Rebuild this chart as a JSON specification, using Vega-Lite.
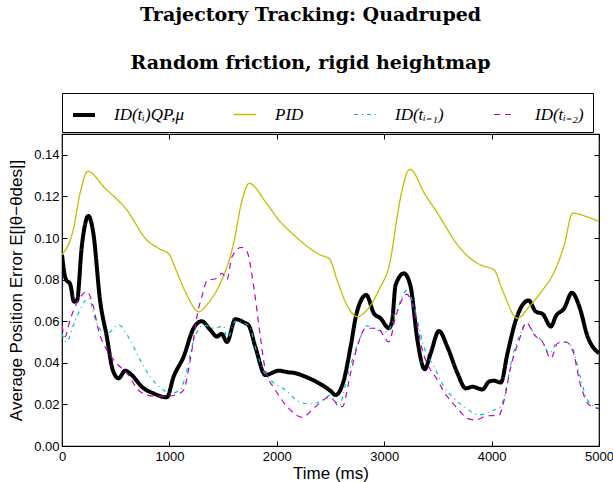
{
  "$schema": "https://vega.github.io/schema/vega-lite/v6.json",
  "autosize": "none",
  "width": 537,
  "height": 312,
  "padding": {"left": 62, "top": 134, "right": 14, "bottom": 36},
  "background": "white",
  "title": {
    "text": ["Trajectory Tracking: Quadruped", "Random friction, rigid heightmap"],
    "font": "DejaVu Serif",
    "fontWeight": "bold",
    "fontSize": 19,
    "lineHeight": 48,
    "anchor": "middle",
    "frame": "bounds",
    "offset": 20,
    "color": "#000"
  },
  "config": {
    "view": {"stroke": "#000", "strokeWidth": 1.2},
    "axis": {
      "grid": false,
      "domain": false,
      "labelFlush": false,
      "tickColor": "#000",
      "tickSize": -5,
      "tickWidth": 1,
      "labelFont": "Liberation Sans",
      "labelFontSize": 13,
      "labelColor": "#000",
      "titleFont": "Liberation Sans",
      "titleFontSize": 17,
      "titleFontWeight": "normal",
      "titleColor": "#000"
    },
    "legend": {
      "orient": "none",
      "legendX": 0,
      "legendY": -41,
      "direction": "horizontal",
      "columns": 4,
      "strokeColor": "#000",
      "padding": 9,
      "columnPadding": 47,
      "labelFont": "Liberation Serif",
      "labelFontStyle": "italic",
      "labelFontSize": 17,
      "labelColor": "#000",
      "labelOffset": 17,
      "labelLimit": 300,
      "symbolType": "stroke",
      "symbolSize": 484
    }
  },
  "data": {
    "values": [
      {"s": "ID(tᵢ)QP,μ", "t": 0, "v": 0.092},
      {"s": "ID(tᵢ)QP,μ", "t": 37, "v": 0.080},
      {"s": "ID(tᵢ)QP,μ", "t": 75, "v": 0.078},
      {"s": "ID(tᵢ)QP,μ", "t": 112, "v": 0.0694},
      {"s": "ID(tᵢ)QP,μ", "t": 140, "v": 0.070},
      {"s": "ID(tᵢ)QP,μ", "t": 184, "v": 0.0958},
      {"s": "ID(tᵢ)QP,μ", "t": 246, "v": 0.1106},
      {"s": "ID(tᵢ)QP,μ", "t": 292, "v": 0.1022},
      {"s": "ID(tᵢ)QP,μ", "t": 354, "v": 0.0702},
      {"s": "ID(tᵢ)QP,μ", "t": 417, "v": 0.0526},
      {"s": "ID(tᵢ)QP,μ", "t": 473, "v": 0.0365},
      {"s": "ID(tᵢ)QP,μ", "t": 526, "v": 0.0325},
      {"s": "ID(tᵢ)QP,μ", "t": 588, "v": 0.0362},
      {"s": "ID(tᵢ)QP,μ", "t": 650, "v": 0.0341},
      {"s": "ID(tᵢ)QP,μ", "t": 743, "v": 0.0285},
      {"s": "ID(tᵢ)QP,μ", "t": 852, "v": 0.0253},
      {"s": "ID(tᵢ)QP,μ", "t": 976, "v": 0.0234},
      {"s": "ID(tᵢ)QP,μ", "t": 1039, "v": 0.0333},
      {"s": "ID(tᵢ)QP,μ", "t": 1132, "v": 0.0429},
      {"s": "ID(tᵢ)QP,μ", "t": 1225, "v": 0.0566},
      {"s": "ID(tᵢ)QP,μ", "t": 1300, "v": 0.0600},
      {"s": "ID(tᵢ)QP,μ", "t": 1381, "v": 0.0558},
      {"s": "ID(tᵢ)QP,μ", "t": 1443, "v": 0.0526},
      {"s": "ID(tᵢ)QP,μ", "t": 1485, "v": 0.054},
      {"s": "ID(tᵢ)QP,μ", "t": 1536, "v": 0.050},
      {"s": "ID(tᵢ)QP,μ", "t": 1614, "v": 0.061},
      {"s": "ID(tᵢ)QP,μ", "t": 1691, "v": 0.0595},
      {"s": "ID(tᵢ)QP,μ", "t": 1738, "v": 0.058},
      {"s": "ID(tᵢ)QP,μ", "t": 1800, "v": 0.0477},
      {"s": "ID(tᵢ)QP,μ", "t": 1894, "v": 0.0341},
      {"s": "ID(tᵢ)QP,μ", "t": 2018, "v": 0.0362},
      {"s": "ID(tᵢ)QP,μ", "t": 2100, "v": 0.0355},
      {"s": "ID(tᵢ)QP,μ", "t": 2174, "v": 0.035},
      {"s": "ID(tᵢ)QP,μ", "t": 2267, "v": 0.0333},
      {"s": "ID(tᵢ)QP,μ", "t": 2422, "v": 0.0293},
      {"s": "ID(tᵢ)QP,μ", "t": 2500, "v": 0.0265},
      {"s": "ID(tᵢ)QP,μ", "t": 2547, "v": 0.0245},
      {"s": "ID(tᵢ)QP,μ", "t": 2624, "v": 0.0317},
      {"s": "ID(tᵢ)QP,μ", "t": 2687, "v": 0.0477},
      {"s": "ID(tᵢ)QP,μ", "t": 2743, "v": 0.0638},
      {"s": "ID(tᵢ)QP,μ", "t": 2833, "v": 0.0726},
      {"s": "ID(tᵢ)QP,μ", "t": 2904, "v": 0.0638},
      {"s": "ID(tᵢ)QP,μ", "t": 2966, "v": 0.0614},
      {"s": "ID(tᵢ)QP,μ", "t": 3044, "v": 0.0566},
      {"s": "ID(tᵢ)QP,μ", "t": 3075, "v": 0.0606},
      {"s": "ID(tᵢ)QP,μ", "t": 3106, "v": 0.0774},
      {"s": "ID(tᵢ)QP,μ", "t": 3184, "v": 0.083},
      {"s": "ID(tᵢ)QP,μ", "t": 3246, "v": 0.0766},
      {"s": "ID(tᵢ)QP,μ", "t": 3309, "v": 0.051},
      {"s": "ID(tᵢ)QP,μ", "t": 3377, "v": 0.0369},
      {"s": "ID(tᵢ)QP,μ", "t": 3433, "v": 0.0446},
      {"s": "ID(tᵢ)QP,μ", "t": 3510, "v": 0.0553},
      {"s": "ID(tᵢ)QP,μ", "t": 3588, "v": 0.0477},
      {"s": "ID(tᵢ)QP,μ", "t": 3682, "v": 0.035},
      {"s": "ID(tᵢ)QP,μ", "t": 3759, "v": 0.0277},
      {"s": "ID(tᵢ)QP,μ", "t": 3821, "v": 0.0285},
      {"s": "ID(tᵢ)QP,μ", "t": 3915, "v": 0.0272},
      {"s": "ID(tᵢ)QP,μ", "t": 3977, "v": 0.031},
      {"s": "ID(tᵢ)QP,μ", "t": 4024, "v": 0.0314},
      {"s": "ID(tᵢ)QP,μ", "t": 4086, "v": 0.0305},
      {"s": "ID(tᵢ)QP,μ", "t": 4148, "v": 0.0446},
      {"s": "ID(tᵢ)QP,μ", "t": 4226, "v": 0.0606},
      {"s": "ID(tᵢ)QP,μ", "t": 4344, "v": 0.070},
      {"s": "ID(tᵢ)QP,μ", "t": 4412, "v": 0.0646},
      {"s": "ID(tᵢ)QP,μ", "t": 4475, "v": 0.0635},
      {"s": "ID(tᵢ)QP,μ", "t": 4552, "v": 0.0574},
      {"s": "ID(tᵢ)QP,μ", "t": 4599, "v": 0.0625},
      {"s": "ID(tᵢ)QP,μ", "t": 4676, "v": 0.0662},
      {"s": "ID(tᵢ)QP,μ", "t": 4748, "v": 0.0737},
      {"s": "ID(tᵢ)QP,μ", "t": 4817, "v": 0.067},
      {"s": "ID(tᵢ)QP,μ", "t": 4894, "v": 0.0526},
      {"s": "ID(tᵢ)QP,μ", "t": 5000, "v": 0.0446},

      {"s": "PID", "t": 0, "v": 0.092},
      {"s": "PID", "t": 105, "v": 0.104},
      {"s": "PID", "t": 168, "v": 0.1215},
      {"s": "PID", "t": 240, "v": 0.132},
      {"s": "PID", "t": 400, "v": 0.124},
      {"s": "PID", "t": 603, "v": 0.1135},
      {"s": "PID", "t": 790, "v": 0.099},
      {"s": "PID", "t": 900, "v": 0.095},
      {"s": "PID", "t": 1000, "v": 0.092},
      {"s": "PID", "t": 1050, "v": 0.086},
      {"s": "PID", "t": 1150, "v": 0.074},
      {"s": "PID", "t": 1275, "v": 0.0645},
      {"s": "PID", "t": 1350, "v": 0.068},
      {"s": "PID", "t": 1458, "v": 0.0766},
      {"s": "PID", "t": 1598, "v": 0.0974},
      {"s": "PID", "t": 1676, "v": 0.118},
      {"s": "PID", "t": 1742, "v": 0.1263},
      {"s": "PID", "t": 1900, "v": 0.117},
      {"s": "PID", "t": 2018, "v": 0.1087},
      {"s": "PID", "t": 2158, "v": 0.1015},
      {"s": "PID", "t": 2267, "v": 0.0966},
      {"s": "PID", "t": 2400, "v": 0.092},
      {"s": "PID", "t": 2490, "v": 0.090},
      {"s": "PID", "t": 2560, "v": 0.080},
      {"s": "PID", "t": 2650, "v": 0.068},
      {"s": "PID", "t": 2749, "v": 0.0622},
      {"s": "PID", "t": 2850, "v": 0.066},
      {"s": "PID", "t": 2950, "v": 0.075},
      {"s": "PID", "t": 3060, "v": 0.090},
      {"s": "PID", "t": 3120, "v": 0.110},
      {"s": "PID", "t": 3160, "v": 0.1215},
      {"s": "PID", "t": 3240, "v": 0.133},
      {"s": "PID", "t": 3380, "v": 0.121},
      {"s": "PID", "t": 3526, "v": 0.1095},
      {"s": "PID", "t": 3650, "v": 0.099},
      {"s": "PID", "t": 3806, "v": 0.090},
      {"s": "PID", "t": 3900, "v": 0.087},
      {"s": "PID", "t": 4024, "v": 0.0846},
      {"s": "PID", "t": 4100, "v": 0.075},
      {"s": "PID", "t": 4241, "v": 0.0614},
      {"s": "PID", "t": 4350, "v": 0.067},
      {"s": "PID", "t": 4475, "v": 0.075},
      {"s": "PID", "t": 4568, "v": 0.0822},
      {"s": "PID", "t": 4676, "v": 0.0966},
      {"s": "PID", "t": 4754, "v": 0.1119},
      {"s": "PID", "t": 4900, "v": 0.110},
      {"s": "PID", "t": 5000, "v": 0.1079},

      {"s": "ID(tᵢ₋₁)", "t": 0, "v": 0.054},
      {"s": "ID(tᵢ₋₁)", "t": 40, "v": 0.050},
      {"s": "ID(tᵢ₋₁)", "t": 120, "v": 0.060},
      {"s": "ID(tᵢ₋₁)", "t": 246, "v": 0.071},
      {"s": "ID(tᵢ₋₁)", "t": 323, "v": 0.059},
      {"s": "ID(tᵢ₋₁)", "t": 417, "v": 0.054},
      {"s": "ID(tᵢ₋₁)", "t": 526, "v": 0.0582},
      {"s": "ID(tᵢ₋₁)", "t": 634, "v": 0.051},
      {"s": "ID(tᵢ₋₁)", "t": 728, "v": 0.0413},
      {"s": "ID(tᵢ₋₁)", "t": 821, "v": 0.0333},
      {"s": "ID(tᵢ₋₁)", "t": 945, "v": 0.0269},
      {"s": "ID(tᵢ₋₁)", "t": 1007, "v": 0.0253},
      {"s": "ID(tᵢ₋₁)", "t": 1101, "v": 0.0269},
      {"s": "ID(tᵢ₋₁)", "t": 1160, "v": 0.036},
      {"s": "ID(tᵢ₋₁)", "t": 1222, "v": 0.050},
      {"s": "ID(tᵢ₋₁)", "t": 1318, "v": 0.058},
      {"s": "ID(tᵢ₋₁)", "t": 1427, "v": 0.0566},
      {"s": "ID(tᵢ₋₁)", "t": 1505, "v": 0.0578},
      {"s": "ID(tᵢ₋₁)", "t": 1536, "v": 0.051},
      {"s": "ID(tᵢ₋₁)", "t": 1614, "v": 0.060},
      {"s": "ID(tᵢ₋₁)", "t": 1738, "v": 0.058},
      {"s": "ID(tᵢ₋₁)", "t": 1816, "v": 0.0446},
      {"s": "ID(tᵢ₋₁)", "t": 1878, "v": 0.0357},
      {"s": "ID(tᵢ₋₁)", "t": 1956, "v": 0.031},
      {"s": "ID(tᵢ₋₁)", "t": 2080, "v": 0.0269},
      {"s": "ID(tᵢ₋₁)", "t": 2205, "v": 0.0213},
      {"s": "ID(tᵢ₋₁)", "t": 2313, "v": 0.0202},
      {"s": "ID(tᵢ₋₁)", "t": 2422, "v": 0.0218},
      {"s": "ID(tᵢ₋₁)", "t": 2500, "v": 0.0245},
      {"s": "ID(tᵢ₋₁)", "t": 2578, "v": 0.0189},
      {"s": "ID(tᵢ₋₁)", "t": 2656, "v": 0.0333},
      {"s": "ID(tᵢ₋₁)", "t": 2733, "v": 0.0462},
      {"s": "ID(tᵢ₋₁)", "t": 2780, "v": 0.0526},
      {"s": "ID(tᵢ₋₁)", "t": 2842, "v": 0.0578},
      {"s": "ID(tᵢ₋₁)", "t": 2935, "v": 0.0558},
      {"s": "ID(tᵢ₋₁)", "t": 3029, "v": 0.055},
      {"s": "ID(tᵢ₋₁)", "t": 3106, "v": 0.0638},
      {"s": "ID(tᵢ₋₁)", "t": 3215, "v": 0.075},
      {"s": "ID(tᵢ₋₁)", "t": 3277, "v": 0.067},
      {"s": "ID(tᵢ₋₁)", "t": 3370, "v": 0.0477},
      {"s": "ID(tᵢ₋₁)", "t": 3464, "v": 0.0381},
      {"s": "ID(tᵢ₋₁)", "t": 3557, "v": 0.0285},
      {"s": "ID(tᵢ₋₁)", "t": 3650, "v": 0.0229},
      {"s": "ID(tᵢ₋₁)", "t": 3759, "v": 0.0183},
      {"s": "ID(tᵢ₋₁)", "t": 3884, "v": 0.0149},
      {"s": "ID(tᵢ₋₁)", "t": 4008, "v": 0.017},
      {"s": "ID(tᵢ₋₁)", "t": 4086, "v": 0.0189},
      {"s": "ID(tᵢ₋₁)", "t": 4132, "v": 0.0269},
      {"s": "ID(tᵢ₋₁)", "t": 4195, "v": 0.043},
      {"s": "ID(tᵢ₋₁)", "t": 4257, "v": 0.0526},
      {"s": "ID(tᵢ₋₁)", "t": 4325, "v": 0.059},
      {"s": "ID(tᵢ₋₁)", "t": 4397, "v": 0.0542},
      {"s": "ID(tᵢ₋₁)", "t": 4475, "v": 0.050},
      {"s": "ID(tᵢ₋₁)", "t": 4537, "v": 0.0446},
      {"s": "ID(tᵢ₋₁)", "t": 4615, "v": 0.050},
      {"s": "ID(tᵢ₋₁)", "t": 4692, "v": 0.050},
      {"s": "ID(tᵢ₋₁)", "t": 4748, "v": 0.0477},
      {"s": "ID(tᵢ₋₁)", "t": 4817, "v": 0.035},
      {"s": "ID(tᵢ₋₁)", "t": 4879, "v": 0.0237},
      {"s": "ID(tᵢ₋₁)", "t": 4957, "v": 0.0189},
      {"s": "ID(tᵢ₋₁)", "t": 5000, "v": 0.018},

      {"s": "ID(tᵢ₋₂)", "t": 0, "v": 0.058},
      {"s": "ID(tᵢ₋₂)", "t": 28, "v": 0.0526},
      {"s": "ID(tᵢ₋₂)", "t": 75, "v": 0.0606},
      {"s": "ID(tᵢ₋₂)", "t": 152, "v": 0.070},
      {"s": "ID(tᵢ₋₂)", "t": 230, "v": 0.0742},
      {"s": "ID(tᵢ₋₂)", "t": 292, "v": 0.067},
      {"s": "ID(tᵢ₋₂)", "t": 339, "v": 0.0558},
      {"s": "ID(tᵢ₋₂)", "t": 417, "v": 0.0462},
      {"s": "ID(tᵢ₋₂)", "t": 510, "v": 0.0397},
      {"s": "ID(tᵢ₋₂)", "t": 603, "v": 0.035},
      {"s": "ID(tᵢ₋₂)", "t": 728, "v": 0.0261},
      {"s": "ID(tᵢ₋₂)", "t": 852, "v": 0.024},
      {"s": "ID(tᵢ₋₂)", "t": 976, "v": 0.024},
      {"s": "ID(tᵢ₋₂)", "t": 1070, "v": 0.0248},
      {"s": "ID(tᵢ₋₂)", "t": 1132, "v": 0.0269},
      {"s": "ID(tᵢ₋₂)", "t": 1194, "v": 0.0413},
      {"s": "ID(tᵢ₋₂)", "t": 1272, "v": 0.0662},
      {"s": "ID(tᵢ₋₂)", "t": 1303, "v": 0.0718},
      {"s": "ID(tᵢ₋₂)", "t": 1350, "v": 0.0795},
      {"s": "ID(tᵢ₋₂)", "t": 1443, "v": 0.0806},
      {"s": "ID(tᵢ₋₂)", "t": 1490, "v": 0.083},
      {"s": "ID(tᵢ₋₂)", "t": 1536, "v": 0.080},
      {"s": "ID(tᵢ₋₂)", "t": 1583, "v": 0.091},
      {"s": "ID(tᵢ₋₂)", "t": 1670, "v": 0.0955},
      {"s": "ID(tᵢ₋₂)", "t": 1723, "v": 0.0934},
      {"s": "ID(tᵢ₋₂)", "t": 1785, "v": 0.0766},
      {"s": "ID(tᵢ₋₂)", "t": 1847, "v": 0.0526},
      {"s": "ID(tᵢ₋₂)", "t": 1894, "v": 0.0365},
      {"s": "ID(tᵢ₋₂)", "t": 1987, "v": 0.0269},
      {"s": "ID(tᵢ₋₂)", "t": 2111, "v": 0.0181},
      {"s": "ID(tᵢ₋₂)", "t": 2236, "v": 0.0138},
      {"s": "ID(tᵢ₋₂)", "t": 2360, "v": 0.0189},
      {"s": "ID(tᵢ₋₂)", "t": 2484, "v": 0.0234},
      {"s": "ID(tᵢ₋₂)", "t": 2609, "v": 0.0189},
      {"s": "ID(tᵢ₋₂)", "t": 2687, "v": 0.035},
      {"s": "ID(tᵢ₋₂)", "t": 2749, "v": 0.0477},
      {"s": "ID(tᵢ₋₂)", "t": 2827, "v": 0.0566},
      {"s": "ID(tᵢ₋₂)", "t": 2935, "v": 0.0566},
      {"s": "ID(tᵢ₋₂)", "t": 3044, "v": 0.050},
      {"s": "ID(tᵢ₋₂)", "t": 3106, "v": 0.062},
      {"s": "ID(tᵢ₋₂)", "t": 3209, "v": 0.073},
      {"s": "ID(tᵢ₋₂)", "t": 3277, "v": 0.0654},
      {"s": "ID(tᵢ₋₂)", "t": 3355, "v": 0.0462},
      {"s": "ID(tᵢ₋₂)", "t": 3495, "v": 0.0317},
      {"s": "ID(tᵢ₋₂)", "t": 3588, "v": 0.0237},
      {"s": "ID(tᵢ₋₂)", "t": 3682, "v": 0.0181},
      {"s": "ID(tᵢ₋₂)", "t": 3775, "v": 0.0133},
      {"s": "ID(tᵢ₋₂)", "t": 3853, "v": 0.0125},
      {"s": "ID(tᵢ₋₂)", "t": 3946, "v": 0.0144},
      {"s": "ID(tᵢ₋₂)", "t": 4070, "v": 0.0149},
      {"s": "ID(tᵢ₋₂)", "t": 4117, "v": 0.0221},
      {"s": "ID(tᵢ₋₂)", "t": 4179, "v": 0.0381},
      {"s": "ID(tᵢ₋₂)", "t": 4257, "v": 0.051},
      {"s": "ID(tᵢ₋₂)", "t": 4325, "v": 0.0593},
      {"s": "ID(tᵢ₋₂)", "t": 4397, "v": 0.0534},
      {"s": "ID(tᵢ₋₂)", "t": 4475, "v": 0.050},
      {"s": "ID(tᵢ₋₂)", "t": 4552, "v": 0.0421},
      {"s": "ID(tᵢ₋₂)", "t": 4615, "v": 0.0494},
      {"s": "ID(tᵢ₋₂)", "t": 4692, "v": 0.050},
      {"s": "ID(tᵢ₋₂)", "t": 4754, "v": 0.046},
      {"s": "ID(tᵢ₋₂)", "t": 4832, "v": 0.0285},
      {"s": "ID(tᵢ₋₂)", "t": 4910, "v": 0.0197},
      {"s": "ID(tᵢ₋₂)", "t": 5000, "v": 0.018}
    ]
  },
  "layer": [
    {
      "mark": {"type": "line", "interpolate": "monotone", "clip": true},
      "encoding": {
        "x": {"field": "t", "type": "quantitative", "scale": {"domain": [0, 5000], "nice": false},
              "axis": {"orient": "bottom", "title": "Time (ms)", "values": [0, 1000, 2000, 3000, 4000, 5000], "format": "d", "labelPadding": 9, "titlePadding": 2}},
        "y": {"field": "v", "type": "quantitative", "scale": {"domain": [0, 0.15], "nice": false},
              "axis": {"orient": "left", "title": "Average Position Error E[|θ−θdes|]", "values": [0, 0.02, 0.04, 0.06, 0.08, 0.1, 0.12, 0.14], "format": ".2f", "labelPadding": 8, "titlePadding": 8}},
        "color": {"field": "s", "type": "nominal", "title": null,
                  "scale": {"domain": ["ID(tᵢ)QP,μ", "PID", "ID(tᵢ₋₁)", "ID(tᵢ₋₂)"], "range": ["#000000", "#bfbf00", "#00bfbf", "#bf00bf"]}},
        "strokeDash": {"field": "s", "type": "nominal", "title": null,
                  "scale": {"domain": ["ID(tᵢ)QP,μ", "PID", "ID(tᵢ₋₁)", "ID(tᵢ₋₂)"], "range": [[1, 0], [1, 0], [4, 4, 1, 4], [6, 5]]}},
        "strokeWidth": {"field": "s", "type": "nominal", "title": null,
                  "scale": {"type": "ordinal", "domain": ["ID(tᵢ)QP,μ", "PID", "ID(tᵢ₋₁)", "ID(tᵢ₋₂)"], "range": [4, 1.3, 1.2, 1.2]}}
      }
    },
    {
      "mark": {"type": "line", "opacity": 0},
      "encoding": {
        "x": {"field": "t", "type": "quantitative", "scale": {"domain": [0, 5000], "nice": false},
              "axis": {"orient": "top", "title": null, "labels": false, "values": [0, 1000, 2000, 3000, 4000, 5000]}},
        "y": {"field": "v", "type": "quantitative", "scale": {"domain": [0, 0.15], "nice": false},
              "axis": {"orient": "right", "title": null, "labels": false, "values": [0, 0.02, 0.04, 0.06, 0.08, 0.1, 0.12, 0.14]}},
        "detail": {"field": "s"}
      }
    }
  ],
  "resolve": {"axis": {"x": "independent", "y": "independent"}}
}
